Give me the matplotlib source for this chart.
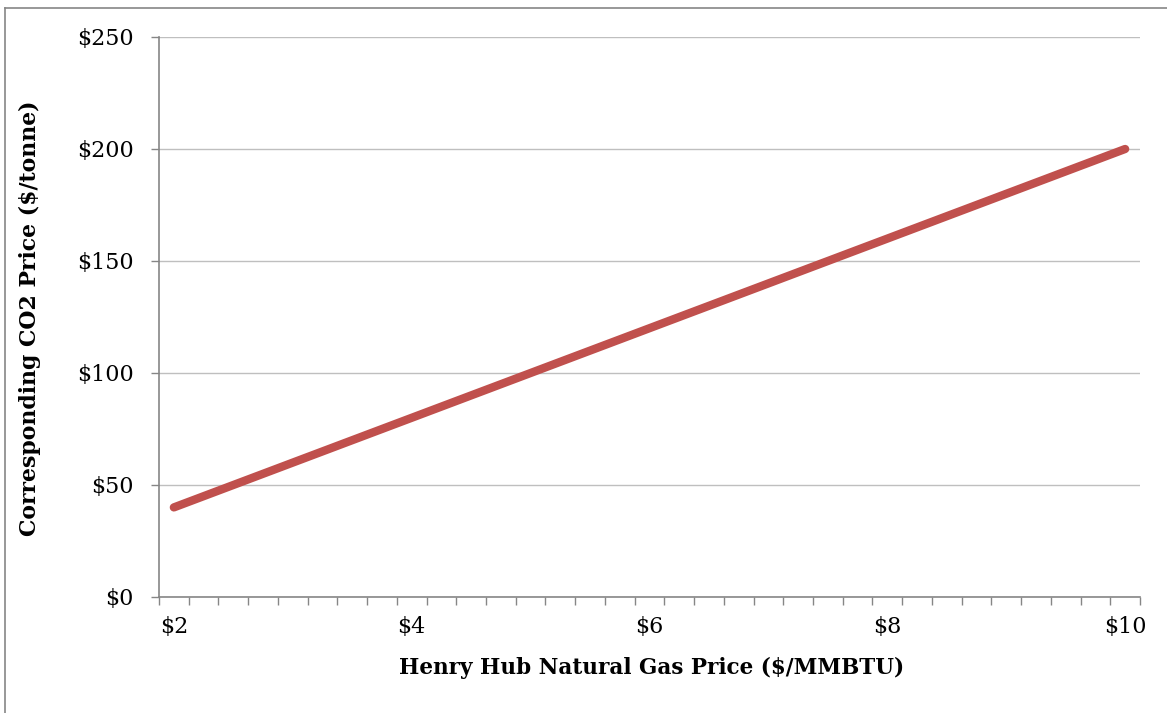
import matplotlib
matplotlib.use("Agg")
import matplotlib.pyplot as plt
from matplotlib.ticker import FixedLocator, FuncFormatter
from matplotlib.lines import Line2D

# Data: Henry Hub gas price ($/MMBTU) in $0.25 steps, and corresponding CO2 price ($/tonne)
gas_price = [2.00, 2.25, 2.50, 2.75, 3.00, 3.25, 3.50, 3.75, 4.00, 4.25, 4.50,
             4.75, 5.00, 5.25, 5.50, 5.75, 6.00, 6.25, 6.50, 6.75, 7.00, 7.25,
             7.50, 7.75, 8.00, 8.25, 8.50, 8.75, 9.00, 9.25, 9.50, 9.75, 10.00]
co2_price = [40, 45, 50, 55, 60, 65, 70, 75, 80, 85, 90,
             95, 100, 105, 110, 115, 120, 125, 130, 135, 140, 145,
             150, 155, 160, 165, 170, 175, 180, 185, 190, 195, 200]
x_tick_labels = ["$2", "$4", "$6", "$8", "$10"]
y_ticks = [0, 50, 100, 150, 200, 250]

plt.rcParams['font.family'] = ['DejaVu Serif']

fig = plt.figure(figsize=(11.67, 7.13), dpi=100)
ax = fig.add_axes([159/1167, 1-597/713, (1140-159)/1167, (597-37)/713])

xs = list(range(len(gas_price)))
ax.plot(xs, co2_price, color='#C0504D', linewidth=6, solid_capstyle='round', zorder=3)

ax.set_xlim(-0.5, len(gas_price) - 0.5)
ax.set_ylim(0, 250)

label_pos = [i for i, p in enumerate(gas_price) if p in (2, 4, 6, 8, 10)]
ax.xaxis.set_major_locator(FixedLocator(label_pos))
ax.set_xticklabels(x_tick_labels)
ax.xaxis.set_minor_locator(FixedLocator([i - 0.5 for i in range(len(gas_price) + 1)]))
ax.tick_params(axis='x', which='major', length=0, pad=14, labelsize=16)
ax.tick_params(axis='x', which='minor', length=6, width=1, color='#868686')

ax.set_yticks(y_ticks)
ax.yaxis.set_major_formatter(FuncFormatter(lambda v, p: f"${int(v)}"))
ax.tick_params(axis='y', length=6, width=1, color='#868686', pad=12, labelsize=16)

ax.grid(axis='y', color='#BFBFBF', linewidth=1)
ax.set_axisbelow(True)
for s in ['top', 'right']:
    ax.spines[s].set_visible(False)
for s in ['left', 'bottom']:
    ax.spines[s].set_color('#868686')
    ax.spines[s].set_linewidth(1.2)

fig.text(400/1167 + 503/2/1167, 1-668/713, "Henry Hub Natural Gas Price ($/MMBTU)",
         ha='center', va='center', fontsize=15.5, fontweight='bold')
fig.text(30/1167, 1-318/713, "Corresponding CO2 Price ($/tonne)",
         ha='center', va='center', rotation=90, fontsize=15.8, fontweight='bold')

fig.add_artist(Line2D([5/1167, 5/1167], [0, 1-8/713], transform=fig.transFigure, color='#868686', linewidth=1.2))
fig.add_artist(Line2D([5/1167, 1], [1-8/713, 1-8/713], transform=fig.transFigure, color='#868686', linewidth=1.2))

fig.savefig("out.png", dpi=100)
